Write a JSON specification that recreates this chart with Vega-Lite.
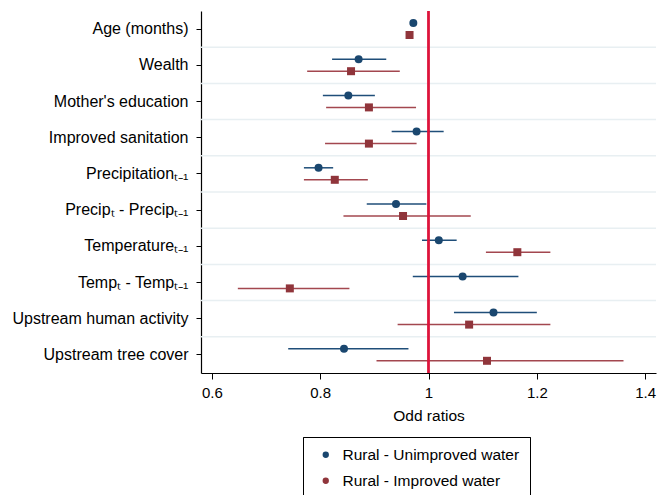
{
  "$schema": "https://vega.github.io/schema/vega-lite/v6.json",
  "autosize": {"type": "none"},
  "padding": {"left": 201, "top": 11, "right": 2, "bottom": 122},
  "width": 455,
  "height": 362,
  "background": "white",
  "config": {
    "view": {"stroke": null},
    "font": "Liberation Sans",
    "axis": {
      "labelFont": "Liberation Sans",
      "titleFont": "Liberation Sans",
      "labelColor": "black",
      "titleColor": "black",
      "domainColor": "black",
      "tickColor": "black",
      "grid": false
    },
    "legend": {
      "labelFont": "Liberation Sans",
      "labelColor": "black"
    }
  },
  "data": {
    "values": [
      {"var": "Age (months)", "series": "Rural - Unimproved water", "est": 0.972, "lo": 0.969, "hi": 0.975},
      {"var": "Age (months)", "series": "Rural - Improved water", "est": 0.965, "lo": 0.962, "hi": 0.968},
      {"var": "Wealth", "series": "Rural - Unimproved water", "est": 0.871, "lo": 0.822, "hi": 0.922},
      {"var": "Wealth", "series": "Rural - Improved water", "est": 0.857, "lo": 0.776, "hi": 0.947},
      {"var": "Mother's education", "series": "Rural - Unimproved water", "est": 0.852, "lo": 0.805, "hi": 0.901},
      {"var": "Mother's education", "series": "Rural - Improved water", "est": 0.890, "lo": 0.811, "hi": 0.977},
      {"var": "Improved sanitation", "series": "Rural - Unimproved water", "est": 0.978, "lo": 0.932, "hi": 1.028},
      {"var": "Improved sanitation", "series": "Rural - Improved water", "est": 0.890, "lo": 0.809, "hi": 0.978},
      {"var": "Precipitationₜ₋₁", "series": "Rural - Unimproved water", "est": 0.797, "lo": 0.770, "hi": 0.824},
      {"var": "Precipitationₜ₋₁", "series": "Rural - Improved water", "est": 0.827, "lo": 0.770, "hi": 0.888},
      {"var": "Precipₜ - Precipₜ₋₁", "series": "Rural - Unimproved water", "est": 0.940, "lo": 0.886, "hi": 0.996},
      {"var": "Precipₜ - Precipₜ₋₁", "series": "Rural - Improved water", "est": 0.953, "lo": 0.843, "hi": 1.078},
      {"var": "Temperatureₜ₋₁", "series": "Rural - Unimproved water", "est": 1.019, "lo": 0.988, "hi": 1.052},
      {"var": "Temperatureₜ₋₁", "series": "Rural - Improved water", "est": 1.164, "lo": 1.106, "hi": 1.225},
      {"var": "Tempₜ - Tempₜ₋₁", "series": "Rural - Unimproved water", "est": 1.063, "lo": 0.971, "hi": 1.166},
      {"var": "Tempₜ - Tempₜ₋₁", "series": "Rural - Improved water", "est": 0.744, "lo": 0.648, "hi": 0.854},
      {"var": "Upstream human activity", "series": "Rural - Unimproved water", "est": 1.120, "lo": 1.047, "hi": 1.200},
      {"var": "Upstream human activity", "series": "Rural - Improved water", "est": 1.075, "lo": 0.943, "hi": 1.225},
      {"var": "Upstream tree cover", "series": "Rural - Unimproved water", "est": 0.844, "lo": 0.741, "hi": 0.963},
      {"var": "Upstream tree cover", "series": "Rural - Improved water", "est": 1.108, "lo": 0.904, "hi": 1.360}
    ]
  },
  "encoding": {
    "y": {
      "field": "var",
      "type": "nominal",
      "title": null,
      "scale": {
        "domain": ["Age (months)", "Wealth", "Mother's education", "Improved sanitation", "Precipitationₜ₋₁", "Precipₜ - Precipₜ₋₁", "Temperatureₜ₋₁", "Tempₜ - Tempₜ₋₁", "Upstream human activity", "Upstream tree cover"],
        "paddingInner": 0,
        "paddingOuter": 0
      },
      "axis": {
        "labelFontSize": 16,
        "labelPadding": 8,
        "tickSize": 5,
        "domainWidth": 1.2,
        "labelLimit": 250
      }
    }
  },
  "layer": [
    {
      "transform": [
        {"filter": "datum.series == 'Rural - Unimproved water' && datum.var != 'Age (months)'"}
      ],
      "mark": {"type": "rule", "color": "#e8eff2", "strokeWidth": 1.5},
      "encoding": {
        "y": {"field": "var", "type": "nominal", "bandPosition": 0}
      }
    },
    {
      "mark": {"type": "rule", "strokeWidth": 1.5},
      "encoding": {
        "x": {
          "field": "lo",
          "type": "quantitative",
          "title": "Odd ratios",
          "scale": {"domain": [0.58, 1.42], "nice": false, "zero": false},
          "axis": {
            "values": [0.6, 0.8, 1, 1.2, 1.4],
            "format": "~g",
            "labelFontSize": 15,
            "titleFontSize": 15.5,
            "titleFontWeight": "normal",
            "tickSize": 6,
            "labelPadding": 6,
            "titlePadding": 8,
            "domainWidth": 1.2,
            "labelFlush": false
          }
        },
        "x2": {"field": "hi"},
        "yOffset": {
          "field": "series",
          "type": "nominal",
          "scale": {"domain": ["Rural - Unimproved water", "Rural - Improved water"], "range": [6, 30]}
        },
        "color": {
          "field": "series",
          "type": "nominal",
          "scale": {"domain": ["Rural - Unimproved water", "Rural - Improved water"], "range": ["#1f4e79", "#a3474f"]},
          "legend": null
        }
      }
    },
    {
      "mark": {"type": "rule", "color": "#dc143c", "strokeWidth": 1.2},
      "encoding": {
        "x": {"datum": 1, "type": "quantitative"},
        "y": {"value": 0},
        "y2": {"value": 362}
      }
    },
    {
      "mark": {"type": "point", "filled": true, "opacity": 1, "size": 64},
      "encoding": {
        "x": {"field": "est", "type": "quantitative"},
        "yOffset": {
          "field": "series",
          "type": "nominal",
          "scale": {"domain": ["Rural - Unimproved water", "Rural - Improved water"], "range": [6, 30]}
        },
        "color": {
          "field": "series",
          "type": "nominal",
          "scale": {"domain": ["Rural - Unimproved water", "Rural - Improved water"], "range": ["#1a476f", "#90353b"]},
          "legend": {
            "title": null,
            "orient": "none",
            "legendX": 102,
            "legendY": 426,
            "padding": 10,
            "symbolOffset": 5,
            "strokeColor": "black",
            "fillColor": "white",
            "labelFontSize": 15.5,
            "labelLimit": 320,
            "labelOffset": 9,
            "rowPadding": 9,
            "symbolSize": 40
          }
        },
        "shape": {
          "field": "series",
          "type": "nominal",
          "scale": {"domain": ["Rural - Unimproved water", "Rural - Improved water"], "range": ["circle", "square"]},
          "legend": {
            "title": null,
            "orient": "none",
            "legendX": 102,
            "legendY": 426,
            "padding": 10,
            "symbolOffset": 5,
            "strokeColor": "black",
            "fillColor": "white",
            "labelFontSize": 15.5,
            "labelLimit": 320,
            "labelOffset": 9,
            "rowPadding": 9,
            "symbolSize": 40
          }
        }
      }
    }
  ],
  "resolve": {"scale": {"color": "independent"}}
}
